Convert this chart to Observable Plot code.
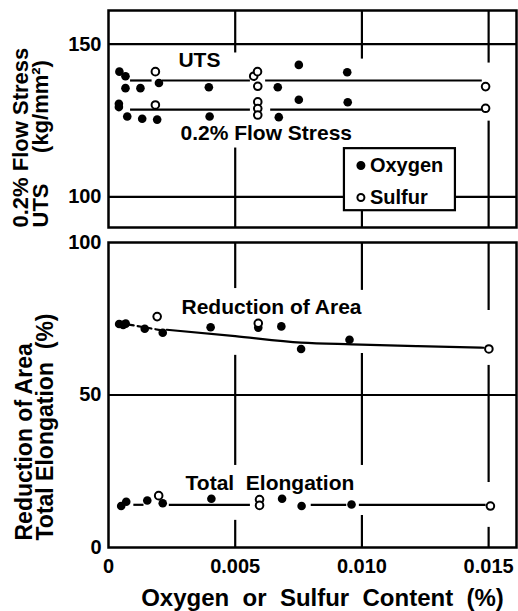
<!DOCTYPE html>
<html><head><meta charset="utf-8">
<script src="https://cdn.jsdelivr.net/npm/d3@7"></script>
<script src="https://cdn.jsdelivr.net/npm/@observablehq/plot@0.6"></script>
<style>
body{margin:0;background:#fff;}
#chart{width:518px;height:611px;position:relative;background:#fff;}
#chart svg{display:block;}
g[aria-label="ytitle-b"] text{letter-spacing:1.5px;}
</style></head><body><div id="chart"></div>
<script>
// ---- data (c = content %, v = value) ----
const xTicks = [0, 0.005, 0.010, 0.015];
const topTicks = [100, 150];
const bottomTicks = [0, 50, 100];

const utsOxygen = [
  {c:0.00043,v:141.0},{c:0.00067,v:139.5},{c:0.00067,v:135.6},{c:0.00126,v:135.6},
  {c:0.00199,v:137.3},{c:0.00396,v:135.9},{c:0.00668,v:135.9},{c:0.00751,v:143.2},{c:0.00942,v:140.8}];
const utsSulfur = [
  {c:0.00185,v:141.0},{c:0.00573,v:139.5},{c:0.00588,v:141.0},{c:0.00589,v:136.2},{c:0.01488,v:136.1}];
const flowOxygen = [
  {c:0.00041,v:130.5},{c:0.00041,v:129.4},{c:0.00074,v:126.3},{c:0.00133,v:125.6},
  {c:0.00192,v:125.3},{c:0.00399,v:126.3},{c:0.00672,v:126.1},{c:0.00751,v:131.8},{c:0.00944,v:131.0}];
const flowSulfur = [
  {c:0.00185,v:130.1},{c:0.00589,v:131.1},{c:0.00589,v:128.9},{c:0.00589,v:126.8},{c:0.01488,v:129.0}];
const utsLevel = 138.1;
const utsSegments = [[0.00087,0.00172],[0.00212,0.0056],[0.0062,0.01475]];
const flowLevel = 128.6;
const flowSegments = [[0.00087,0.0056],[0.0064,0.01475]];

const raOxygen = [
  {c:0.00042,v:73.3},{c:0.00058,v:73.0},{c:0.00068,v:73.4},{c:0.00143,v:71.7},{c:0.00214,v:70.4},
  {c:0.00403,v:72.2},{c:0.00591,v:72.1},{c:0.00682,v:72.5},{c:0.0076,v:65.1},{c:0.00951,v:68.1}];
const raSulfur = [{c:0.00192,v:75.7},{c:0.00591,v:73.5},{c:0.01501,v:65.1}];
const raDashed = [{c:0.0008,v:73.1},{c:0.0021,v:71.2}];
const raCurve = [
  {c:0.0023,v:71.4},{c:0.0050,v:69.3},{c:0.0076,v:67.2},{c:0.0096,v:66.6},{c:0.0122,v:66.0},{c:0.0148,v:65.5}];

const teOxygen = [
  {c:0.0005,v:13.6},{c:0.0007,v:15.0},{c:0.00153,v:15.4},{c:0.00214,v:14.5},{c:0.00406,v:16.0},
  {c:0.00685,v:16.0},{c:0.00762,v:13.6},{c:0.00959,v:14.1}];
const teSulfur = [{c:0.00198,v:17.0},{c:0.00596,v:15.7},{c:0.00596,v:13.8},{c:0.01507,v:13.6}];
const teLevel = 14.0;
const teSegments = [[0.0010,0.0014],[0.0024,0.0056],[0.0080,0.0094],[0.0099,0.0149]];

// broken grid lines (data units)
const vGridTop = [
  {x:0.005,y1:147.1,y2:161},{x:0.005,y1:90,y2:116},
  {x:0.010,y1:145.1,y2:161},{x:0.010,y1:90,y2:116},
  {x:0.015,y1:143.8,y2:161},{x:0.015,y1:90,y2:124.8}];
const vGridBottom = [
  {x:0.005,y1:84.9,y2:100},{x:0.005,y1:26.9,y2:63.0},{x:0.005,y1:0,y2:8.9},
  {x:0.010,y1:84.3,y2:100},{x:0.010,y1:26.9,y2:63.6},{x:0.010,y1:0,y2:10.5},
  {x:0.015,y1:77.7,y2:100},{x:0.015,y1:21.3,y2:59.7},{x:0.015,y1:0,y2:6.6}];

const legendBox = [{x1:0.00931,x2:0.01369,y1:95.5,y2:115.8}];
const legendItems = [
  {label:"Oxygen", c:0.00996, v:110.3, filled:true},
  {label:"Sulfur", c:0.00996, v:99.8, filled:false}];

const topLabels = [
  {text:"UTS", c:0.00276, v:144.6},
  {text:"0.2% Flow Stress", c:0.00284, v:120.7}];
const bottomLabels = [
  {text:"Reduction of Area", c:0.00288, v:78.7},
  {text:"Total\u00a0 Elongation", c:0.00304, v:21.0}];

const topTitles = ["0.2% Flow Stress", "UTS\u00a0\u00a0\u00a0\u00a0\u00a0(kg/mm\u00b2)"];
const bottomTitles = ["Reduction of Area", "Total Elongation\u00a0 (%)"];
const xTitle = "Oxygen\u00a0 or\u00a0 Sulfur\u00a0 Content\u00a0 (%)";

// ---- drawing ----
const FONT = "'Liberation Sans', Arial, sans-serif";
const style = {fontFamily: FONT, fontSize: "20px", fontWeight: "bold", color: "black", background: "white", overflow: "visible"};
const xDomain = [0, 0.0161];
const seg = (arr, level) => arr.map(([x1, x2]) => ({x1, x2, y: level}));
const filled = (d) => Plot.dot(d, {x: "c", y: "v", r: 4.3, fill: "black"});
const open = (d) => Plot.dot(d, {x: "c", y: "v", r: 3.8, fill: "white", stroke: "black", strokeWidth: 2});
const LW = 2.2;

const topPlot = Plot.plot({
  width: 518, height: 230, marginTop: 10, marginBottom: 3, marginLeft: 108, marginRight: 2,
  x: {domain: xDomain, axis: null},
  y: {domain: [90, 161], label: null},
  style,
  marks: [
    Plot.ruleY(topTicks, {stroke: "black", strokeWidth: LW}),
    Plot.ruleX(vGridTop, {x: "x", y1: "y1", y2: "y2", stroke: "black", strokeWidth: LW}),
    Plot.ruleY(seg(utsSegments, utsLevel), {x1: "x1", x2: "x2", y: "y", stroke: "black", strokeWidth: LW}),
    Plot.ruleY(seg(flowSegments, flowLevel), {x1: "x1", x2: "x2", y: "y", stroke: "black", strokeWidth: LW}),
    filled(utsOxygen), open(utsSulfur), filled(flowOxygen), open(flowSulfur),
    Plot.text(topLabels, {x: "c", y: "v", text: "text", textAnchor: "start", fontSize: 21, fontWeight: "bold"}),
    Plot.rect(legendBox, {x1: "x1", x2: "x2", y1: "y1", y2: "y2", fill: "white", stroke: "black", strokeWidth: LW}),
    Plot.dot(legendItems, {x: "c", y: "v", r: 3.5, fill: d => d.filled ? "black" : "white", stroke: "black", strokeWidth: 2}),
    Plot.text(legendItems, {x: "c", y: "v", text: "label", textAnchor: "start", dx: 9, fontSize: 20, fontWeight: "bold"}),
    Plot.frame({stroke: "black", strokeWidth: 2.5}),
    Plot.axisY({ticks: topTicks, tickSize: 0, tickPadding: 7, label: null, fontSize: 20, fontWeight: "bold"}),
    Plot.text([topTitles[0]], {text: d => d, frameAnchor: "bottom-left", rotate: -90, textAnchor: "start", dx: -81, fontSize: 22, fontWeight: "bold"}),
    Plot.text([topTitles[1]], {text: d => d, frameAnchor: "bottom-left", rotate: -90, textAnchor: "start", dx: -61, fontSize: 22, fontWeight: "bold"})
  ]
});

const bottomPlot = Plot.plot({
  width: 518, height: 381, marginTop: 12, marginBottom: 64, marginLeft: 108, marginRight: 2,
  x: {domain: xDomain, label: null},
  y: {domain: [0, 100], label: null},
  style,
  marks: [
    Plot.ruleY([50], {stroke: "black", strokeWidth: LW}),
    Plot.ruleX(vGridBottom, {x: "x", y1: "y1", y2: "y2", stroke: "black", strokeWidth: LW}),
    Plot.line(raDashed, {x: "c", y: "v", stroke: "black", strokeWidth: LW, strokeDasharray: "5,4"}),
    Plot.line(raCurve, {x: "c", y: "v", stroke: "black", strokeWidth: LW, curve: "monotone-x"}),
    Plot.ruleY(seg(teSegments, teLevel), {x1: "x1", x2: "x2", y: "y", stroke: "black", strokeWidth: LW}),
    filled(raOxygen), open(raSulfur), filled(teOxygen), open(teSulfur),
    Plot.text(bottomLabels, {x: "c", y: "v", text: "text", textAnchor: "start", fontSize: 21, fontWeight: "bold"}),
    Plot.frame({stroke: "black", strokeWidth: 2.5}),
    Plot.axisY({ticks: bottomTicks, tickSize: 0, tickPadding: 7, label: null, fontSize: 20, fontWeight: "bold"}),
    Plot.axisX({ticks: xTicks, tickSize: 0, tickPadding: 11, label: null, fontSize: 20, fontWeight: "bold",
      tickFormat: d => d === 0 ? "0" : d.toFixed(3)}),
    Plot.text([xTitle], {text: d => d, frameAnchor: "bottom", dy: 58, dx: 10, fontSize: 24, fontWeight: "bold"}),
    Plot.text([bottomTitles[0]], {ariaLabel: "ytitle-b", text: d => d, frameAnchor: "bottom-left", rotate: -90, textAnchor: "start", dx: -77, dy: -7, fontSize: 23, fontWeight: "bold"}),
    Plot.text([bottomTitles[1]], {ariaLabel: "ytitle-b", text: d => d, frameAnchor: "bottom-left", rotate: -90, textAnchor: "start", dx: -56, dy: -7, fontSize: 23, fontWeight: "bold"})
  ]
});

const chart = document.getElementById("chart");
chart.appendChild(topPlot);
chart.appendChild(bottomPlot);
</script></body></html>
